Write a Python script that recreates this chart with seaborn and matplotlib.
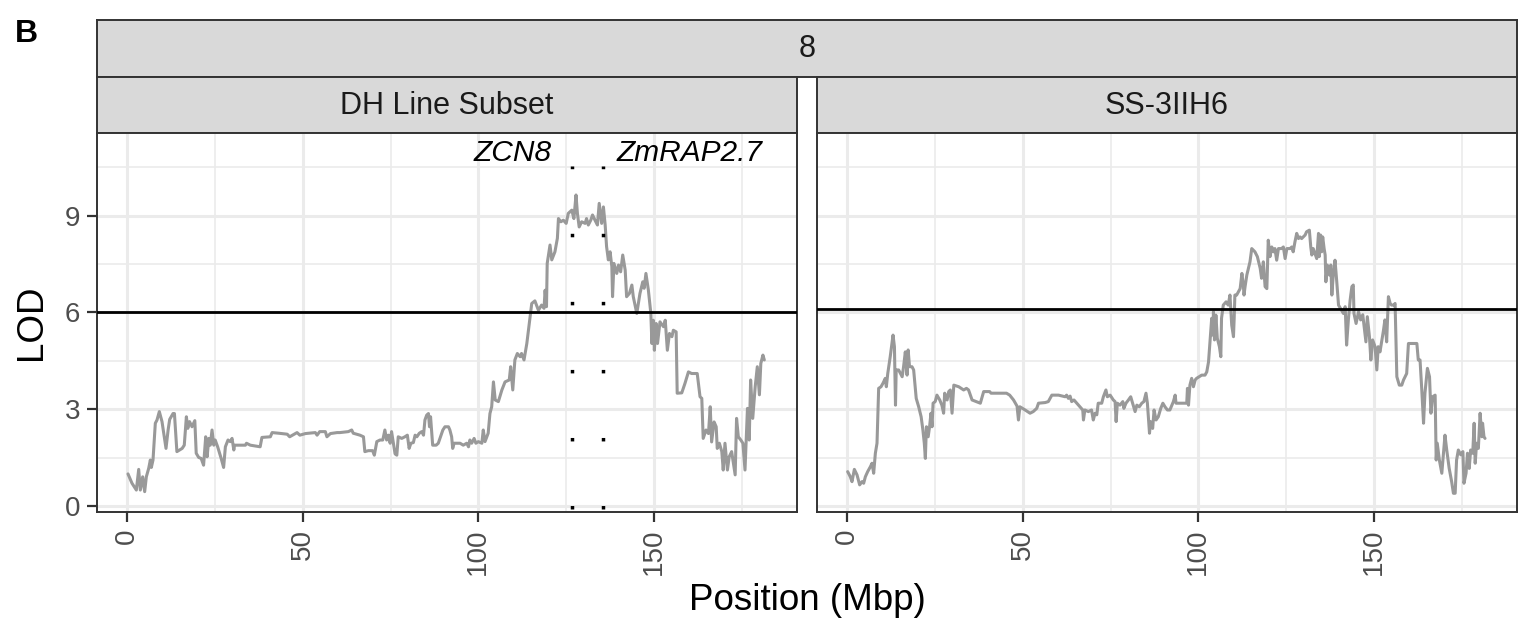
import numpy as np
import pandas as pd
import matplotlib
matplotlib.use("Agg")
import matplotlib.pyplot as plt
import seaborn as sns
from matplotlib.ticker import MultipleLocator

# ---------------- data ----------------
dh_pos = [0.28, 1.42, 2.66, 3.33, 3.79, 4.46, 5.03, 5.5, 6.17, 6.64, 6.93, 7.4, 8.06, 8.54, 9.2, 9.96,
          11.1, 11.7, 12.15, 13.1, 13.5, 14.2, 15.7, 16.3, 16.9, 17.3, 17.8, 18.5, 19.3, 19.7, 20.4, 21.1,
          21.8, 22.4, 22.8, 23.3, 23.7, 24.2, 24.7, 25.1, 25.8, 26.8, 27.5, 28.0, 28.75, 29.4, 29.9, 30.4,
          30.6, 33.7, 34.0, 35.1, 37.9, 38.4, 40.8, 41.3, 43.2, 45.6, 46.3, 48.4, 49.2, 50.8, 53.6, 54.1,
          54.85, 56.45, 56.9, 57.9, 59.8, 60.6, 63.0, 63.95, 64.4, 66.3, 67.3, 67.7, 68.7, 69.9, 70.4, 71.1,
          72.0, 72.8, 73.4, 73.9, 74.4, 74.9, 75.3, 76.3, 76.8, 77.2, 78.2, 79.1, 79.8, 80.3, 80.8, 81.5,
          82.0, 82.5, 83.2, 83.9, 84.4, 84.8, 85.3, 85.8, 86.1, 86.4, 87.0, 88.0, 88.6, 89.9, 90.5, 91.5,
          91.9, 92.4, 92.7, 93.1, 94.8, 95.7, 96.7, 97.2, 97.6, 98.1, 98.8, 99.3, 100.0, 101.0, 101.4, 101.9,
          102.8, 103.3, 103.8, 104.3, 104.8, 105.7, 106.7, 107.6, 108.8, 109.2, 109.8, 110.4, 111.1, 111.9,
          112.3, 113.0, 113.8, 114.5, 115.2, 116.1, 117.1, 118.0, 118.7, 119.0, 119.4, 119.6, 120.4, 120.9,
          121.8, 122.5, 122.8, 123.5, 124.2, 125.0, 125.6, 126.6, 127.2, 127.8, 128.2, 128.7, 129.4, 130.4,
          130.8, 131.3, 132.0, 132.5, 133.2, 133.9, 134.4, 135.1, 135.6, 136.1, 136.5, 137.0, 137.5, 138.0,
          138.2, 138.6, 139.4, 139.9, 140.5, 141.1, 141.8, 142.2, 143.0, 143.7, 144.1, 145.1, 146.0, 146.8,
          147.2, 147.7, 148.4, 149.1, 149.4, 149.8, 150.1, 150.6, 151.0, 151.7, 152.7, 153.2, 153.8, 154.4,
          155.1, 155.5, 156.3, 156.6, 157.9, 158.8, 159.8, 160.7, 162.3, 163.1, 163.6, 164.0, 164.8, 165.5,
          166.0, 166.4, 167.1, 167.7, 168.0, 168.6, 169.3, 169.7, 170.2, 170.9, 171.4, 172.1, 172.6, 173.1,
          173.5, 174.0, 174.7, 175.3, 175.9, 176.6, 177.1, 177.5, 178.1, 178.8, 179.4, 180.0, 180.4, 181.0,
          181.4]
dh_lod = [1.0, 0.71, 0.50, 1.14, 0.50, 0.91, 0.45, 0.91, 1.17, 1.43, 1.2, 1.43, 2.57, 2.67, 2.93, 2.62,
          1.79, 2.36, 2.69, 2.87, 2.87, 1.69, 1.79, 1.89, 2.77, 2.41, 2.62, 2.46, 2.65, 1.64, 1.51, 1.48,
          1.27, 2.15, 1.53, 2.10, 1.89, 2.36, 1.89, 2.05, 1.84, 1.48, 1.20, 1.84, 2.05, 2.0, 2.10, 1.74,
          1.89, 1.89, 1.95, 1.89, 1.84, 2.13, 2.15, 2.28, 2.26, 2.23, 2.15, 2.28, 2.2, 2.25, 2.28, 2.2,
          2.31, 2.31, 2.15, 2.25, 2.28, 2.28, 2.31, 2.36, 2.26, 2.20, 2.15, 1.69, 1.72, 1.72, 1.58, 2.0,
          2.05, 2.05, 2.36, 2.05, 2.2, 1.95, 2.31, 1.62, 1.58, 2.15, 2.10, 2.15, 2.2, 1.79, 1.95, 1.97,
          2.2, 2.15, 2.26, 2.31, 2.2, 2.67, 2.82, 2.87, 2.46, 2.77, 1.89, 1.89, 1.95, 2.36, 2.46, 2.46,
          2.36, 2.15, 1.79, 1.95, 1.95, 1.89, 1.95, 1.84, 2.05, 1.95, 2.1, 1.95, 2.0, 1.95, 2.36, 2.0,
          2.26, 2.87, 3.08, 3.85, 3.29, 3.24, 3.6, 3.85, 3.91, 4.32, 3.6, 4.53, 4.73, 4.63,
          4.73, 4.53, 5.04, 5.66, 6.28, 6.36, 6.07, 6.23, 6.13, 6.69, 6.18, 7.52, 8.09, 7.63,
          7.88, 8.3, 8.91, 8.81, 8.86, 8.76, 9.07, 9.17, 8.91, 9.64, 9.07, 8.65, 8.81, 8.76,
          8.91, 8.71, 8.86, 9.02, 8.86, 8.71, 9.38, 8.76, 9.27, 8.71, 8.04, 7.63, 7.88, 7.42,
          6.49, 7.52, 7.21, 7.47, 7.26, 7.78, 7.31, 6.49, 6.59, 6.85, 6.49, 5.97, 6.59, 6.95,
          6.75, 7.21, 6.69, 5.97, 5.04, 5.76, 4.83, 5.66, 5.04, 5.71, 5.56, 5.76, 4.83, 5.35,
          5.25, 5.45, 5.4, 3.5, 3.51, 3.8, 4.16, 4.11, 4.11, 3.39, 3.34, 2.1, 2.36, 2.25,
          3.08, 1.99, 2.61, 2.46, 1.79, 1.95, 1.69, 1.12, 1.95, 1.12, 1.53, 1.69, 1.33, 0.97,
          2.72, 2.15, 2.05, 1.95, 1.12, 3.03, 2.05, 3.91, 2.72, 3.70, 4.32, 3.45, 4.42, 4.68,
          4.53]

ss_pos = [0.19, 0.95, 1.42, 2.09, 2.85, 3.6, 4.27, 4.74, 5.22, 5.88, 6.64, 7.12, 7.59, 8.07, 8.54, 9.01,
          9.68, 10.25, 10.9, 11.2, 11.6, 12.3, 13.1, 13.5, 13.8, 14.0, 14.7, 15.7, 16.1, 16.6, 17.1, 17.4,
          17.8, 18.5, 18.97, 19.7, 20.4, 21.1, 21.6, 22.0, 22.3, 22.6, 23.1, 23.5, 23.9, 24.2, 24.5, 25.1,
          25.6, 26.4, 27.0, 27.5, 27.8, 28.5, 28.95, 29.4, 29.9, 30.4, 31.8, 33.2, 34.0, 34.6, 35.6, 37.95,
          38.9, 40.6, 41.0, 45.4, 46.3, 47.4, 48.4, 48.8, 49.2, 50.7, 52.1, 53.0, 54.0, 54.5, 56.4, 57.3,
          58.3, 60.2, 62.1, 62.5, 63.0, 63.5, 63.95, 64.6, 65.4, 66.3, 67.1, 67.3, 67.7, 68.7, 69.6, 70.1,
          70.6, 71.1, 71.5, 72.5, 72.97, 73.7, 74.1, 74.9, 75.8, 76.3, 76.6, 76.95, 77.7, 78.5, 78.8, 79.4,
          80.1, 80.75, 81.3, 82.0, 82.5, 83.2, 83.9, 84.5, 85.1, 85.5, 86.1, 86.4, 87.0, 87.4, 87.96, 88.6,
          89.3, 89.9, 90.5, 91.2, 91.9, 92.9, 93.4, 93.65, 96.7, 96.9, 97.2, 97.6, 98.1, 98.6, 99.1, 99.5,
          100.96, 101.9, 102.4, 102.9, 103.3, 103.8, 104.1, 104.3, 104.6, 105.0, 105.4, 106.0, 106.4, 106.6,
          107.1, 107.9, 108.5, 109.0, 109.5, 110.0, 110.2, 110.4, 110.9, 111.4, 111.9, 112.4, 112.8, 113.0,
          113.3, 113.8, 114.7, 115.2, 116.1, 116.8, 117.6, 118.0, 118.5, 119.0, 119.5, 119.9, 120.4, 120.9,
          121.4, 121.8, 122.3, 122.8, 123.7, 124.2, 124.7, 125.2, 126.1, 126.6, 127.0, 127.5, 128.0, 128.5,
          128.95, 129.4, 130.4, 130.8, 131.6, 132.0, 132.3, 132.7, 133.2, 133.7, 134.2, 134.4, 134.8, 135.1,
          135.4, 135.8, 136.1, 136.3, 136.7, 137.3, 137.7, 138.0, 138.4, 138.9, 139.4, 139.9, 141.3, 141.8,
          142.2, 142.7, 143.2, 143.7, 144.1, 144.3, 144.9, 145.6, 146.2, 146.8, 147.2, 147.7, 148.1, 148.7,
          149.1, 149.6, 150.3, 150.8, 151.2, 151.7, 152.7, 153.1, 153.6, 154.1, 154.6, 155.0, 155.7, 156.0,
          156.5, 157.2, 157.9, 158.4, 159.3, 159.8, 162.2, 162.6, 163.1, 163.6, 164.1, 164.5, 165.2, 165.8,
          166.2, 166.7, 167.4, 167.7, 168.0, 168.6, 169.3, 169.7, 170.2, 170.7, 171.4, 172.1, 172.6, 173.1,
          173.5, 174.0, 174.7, 175.3, 175.6, 176.2, 176.6, 177.1, 177.5, 178.1, 178.5, 178.8, 179.2, 179.7,
          180.2, 180.7, 180.9, 181.3, 181.6]
ss_lod = [1.07, 0.91, 0.76, 1.14, 0.97, 0.66, 0.76, 0.71, 0.91, 1.07, 1.22, 1.33, 1.02, 1.64, 1.95, 3.65,
          3.70, 3.81, 3.96, 3.70, 4.11, 4.63, 5.3, 4.94, 3.13, 4.22, 4.22, 4.01, 4.32, 4.78, 4.06, 4.84,
          4.32, 4.32, 4.22, 3.34, 3.08, 2.77, 2.36, 1.95, 1.48, 2.46, 2.15, 2.46, 2.88, 2.46, 3.19, 3.24,
          3.44, 3.29, 3.13, 2.88, 3.5, 3.29, 3.55, 3.6, 2.88, 3.75, 3.70, 3.6, 3.65, 3.6, 3.29, 3.19,
          3.55, 3.55, 3.5, 3.5, 3.44, 3.29, 3.10, 2.67, 3.08, 2.98, 2.88, 2.93, 3.03, 3.19, 3.21, 3.24,
          3.44, 3.44, 3.39, 3.44, 3.34, 3.41, 3.24, 3.29, 3.19, 3.08, 2.98, 2.67, 2.98, 2.93, 2.98, 2.67,
          2.88, 2.83, 3.19, 3.19, 3.39, 3.6, 3.39, 3.44, 3.29, 3.24, 2.62, 3.19, 3.13, 3.24, 3.03, 3.19,
          3.29, 3.39, 3.19, 2.93, 3.13, 3.08, 3.19, 3.24, 3.5, 3.19, 2.26, 2.62, 2.41, 2.98, 2.67, 2.77,
          3.03, 3.19, 3.08, 2.98, 2.98, 3.24, 3.44, 3.19, 3.19, 3.65, 3.13, 3.75, 3.96, 3.70, 3.91, 3.96,
          4.06, 4.06, 4.16, 4.47, 5.09, 5.82, 5.3, 6.02, 5.15, 5.92, 5.2, 4.94, 4.63, 5.82,
          6.23, 6.33, 6.23, 6.54, 5.61, 5.25, 5.82, 6.54, 6.54, 6.64, 6.74, 7.21, 6.85, 6.54,
          6.8, 7.16, 7.57, 7.98, 7.88, 7.73, 7.37, 7.06, 7.57, 6.8, 6.74, 8.24, 7.73, 8.03,
          7.88, 7.98, 7.62, 7.98, 7.98, 8.03, 7.67, 7.98, 7.98, 8.03, 7.88, 8.19, 8.45, 8.29,
          8.34, 8.29, 8.4, 8.50, 8.55, 8.03, 7.78, 7.98, 7.83, 7.67, 8.45, 7.73, 8.40, 7.88,
          8.34, 7.98, 7.78, 6.95, 7.47, 7.16, 7.47, 6.54, 7.16, 7.62, 6.95, 6.23, 5.97, 6.18,
          4.99, 5.77, 6.38, 6.80, 6.85, 5.97, 5.66, 6.02, 5.77, 5.93, 5.56, 5.09, 5.87, 5.25,
          4.53, 5.15, 4.94, 4.22, 4.94, 4.78, 5.45, 5.77, 5.09, 6.49, 6.28, 6.23, 6.23, 6.28,
          4.01, 3.75, 3.75, 3.91, 4.11, 5.04, 5.04, 4.53, 4.53, 3.6, 2.57, 3.5, 4.27, 4.01,
          2.88, 3.39, 3.44, 1.43, 1.95, 1.43, 1.02, 1.55, 2.2, 1.74, 1.17, 0.76, 0.40, 0.40,
          1.43, 1.74, 1.59, 1.69, 0.71, 1.02, 1.64, 1.17, 1.74, 1.64, 2.57, 1.33, 1.95, 1.79,
          2.88, 2.15, 2.57, 2.15, 2.1]

panels = ["DH Line Subset", "SS-3IIH6"]
thresholds = [6.0, 6.1]
chrom_label = "8"
gene_names = ["ZCN8", "ZmRAP2.7"]
gene_pos = [126.6, 135.6]
gene_label_y = 10.93
gene_line_top = 10.55
y_ticks = [0, 3, 6, 9]
x_ticks = [0, 50, 100, 150]

df = pd.concat([
    pd.DataFrame({"pos": dh_pos, "lod": dh_lod, "panel": panels[0]}),
    pd.DataFrame({"pos": ss_pos, "lod": ss_lod, "panel": panels[1]}),
], ignore_index=True)

# ---------------- style ----------------
sns.set_theme(style="white")
plt.rcParams["font.family"] = ["Liberation Sans", "DejaVu Sans"]

W, H = 1532, 625
fig = plt.figure(figsize=(W / 100, H / 100), dpi=100)
fig.patch.set_facecolor("white")


def rect(x0, y0, x1, y1):
    return [x0 / W, 1 - y1 / H, (x1 - x0) / W, (y1 - y0) / H]


BORDER = "#333333"
XLIM = (-8.54, 190.7)
YLIM = (-0.18, 11.56)
TICK_FS = 20
STRIP_FS = 22
TITLE_FS = 26.5


def strip(r, text):
    a = fig.add_axes(rect(*r))
    a.set_facecolor("#D9D9D9")
    a.set_xticks([])
    a.set_yticks([])
    for s in a.spines.values():
        s.set_color(BORDER)
        s.set_linewidth(1.4)
        s.set_visible(True)
    a.text(0.5, 0.48, text, ha="center", va="center", fontsize=STRIP_FS,
           color="#1A1A1A", transform=a.transAxes)
    return a


strip((97, 20, 1517, 76.5), chrom_label)

panel_boxes = [(97, 133, 797, 512), (817, 133, 1517, 512)]
strip_boxes = [(97, 76.5, 797, 133), (817, 76.5, 1517, 133)]

axes = []
for i, name in enumerate(panels):
    strip(strip_boxes[i], name)
    ax = fig.add_axes(rect(*panel_boxes[i]))
    ax.set_facecolor("white")
    ax.set_xlim(*XLIM)
    ax.set_ylim(*YLIM)
    ax.xaxis.set_major_locator(plt.FixedLocator(x_ticks))
    ax.xaxis.set_minor_locator(MultipleLocator(25))
    ax.yaxis.set_major_locator(plt.FixedLocator(y_ticks))
    ax.yaxis.set_minor_locator(MultipleLocator(1.5))
    ax.grid(which="major", color="#EBEBEB", lw=2.2, zorder=0)
    ax.grid(which="minor", color="#EBEBEB", lw=1.2, zorder=0)
    ax.set_axisbelow(True)
    sub = df[df["panel"] == name]
    sns.lineplot(data=sub, x="pos", y="lod", ax=ax, color="#999999", lw=2.2,
                 estimator=None, sort=False, legend=False, zorder=3)
    ax.axhline(thresholds[i], color="black", lw=2.0, zorder=4)
    for s in ax.spines.values():
        s.set_color(BORDER)
        s.set_linewidth(1.4)
        s.set_visible(True)
    ax.set_xlabel("")
    ax.set_ylabel("")
    ax.tick_params(axis="both", which="major", length=7, width=1.6, color=BORDER,
                   labelsize=TICK_FS, labelcolor="#4D4D4D", pad=5,
                   bottom=True, left=(i == 0))
    ax.tick_params(axis="both", which="minor", length=0)
    ax.set_xticklabels([str(t) for t in x_ticks], rotation=90, va="top", ha="center")
    if i == 1:
        ax.set_yticklabels([])
    axes.append(ax)

# gene markers in first panel
ax0 = axes[0]
for g in gene_pos:
    ln, = ax0.plot([g, g], [-0.1, gene_line_top], color="black", lw=2.5, zorder=5)
    ln.set_dashes((1, 18.6))
    ln.set_dash_capstyle("butt")
ax0.annotate(gene_names[0], xy=(gene_pos[0], gene_label_y), xytext=(-14.4, 0),
             textcoords="offset points", ha="right", va="center", style="italic",
             fontsize=21.5, color="black")
ax0.annotate(gene_names[1], xy=(gene_pos[1], gene_label_y), xytext=(9.4, 0),
             textcoords="offset points", ha="left", va="center", style="italic",
             fontsize=21.5, color="black")

fig.text(32 / W, 1 - 322.5 / H, "LOD", rotation=90, ha="center", va="center",
         fontsize=TITLE_FS, color="black")
fig.text(807 / W, 1 - 601 / H, "Position (Mbp)", ha="center", va="center",
         fontsize=TITLE_FS, color="black")
fig.text(15 / W, 1 - 42 / H, "B", ha="left", va="baseline", fontsize=23,
         weight="bold", color="black")

fig.savefig("out.png", dpi=100)
